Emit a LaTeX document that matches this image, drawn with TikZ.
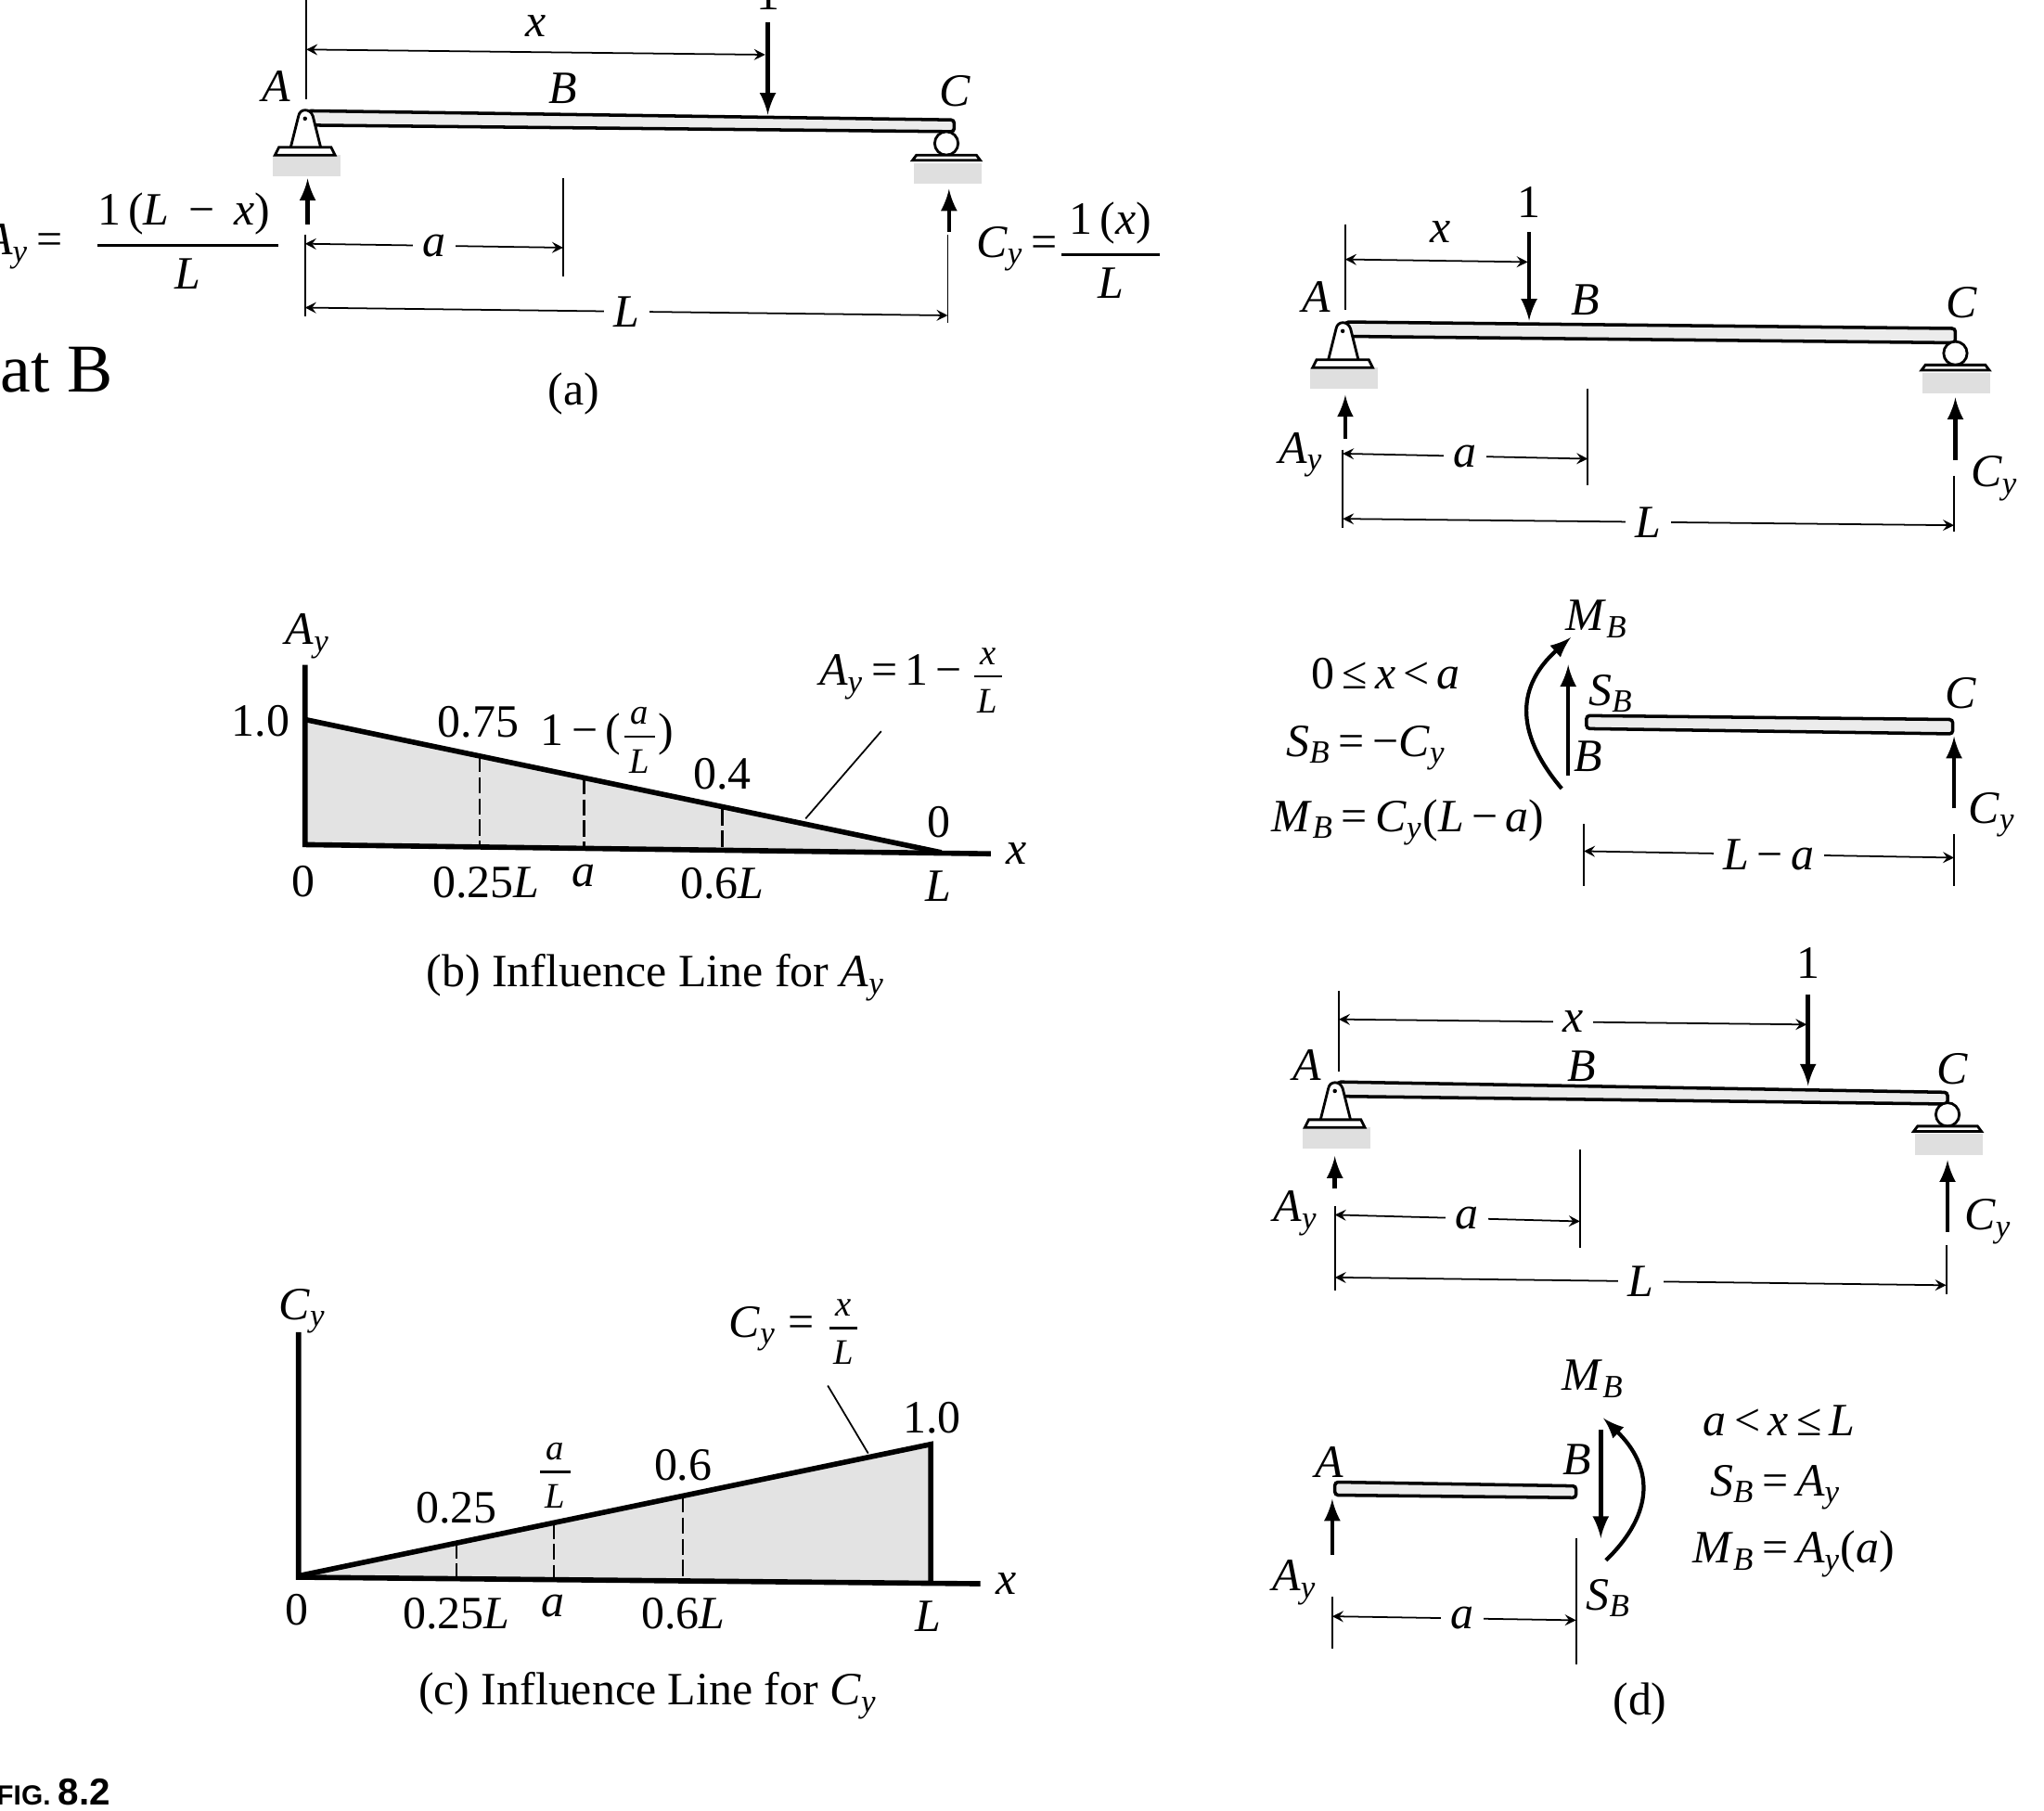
\documentclass[tikz,border=0pt]{standalone}
\usepackage{fontspec}
\setmainfont{Liberation Serif}
\newfontfamily\figfont{Liberation Sans}
\usetikzlibrary{arrows, calc}

\newcommand{\Sb}[2]{\textit{#1}\textsubscript{\textit{#2}}}
\newcommand{\Fr}[2]{$\displaystyle{\hbox{#1}\above 0.8pt\hbox{#2}}$}
\newcommand{\Sr}[2]{{\fontsize{11}{12}\selectfont $\textstyle{\hbox{\rule[-2.5pt]{0pt}{0pt}\,\textit{#1}\,}\above 0.8pt\hbox{\rule{0pt}{10pt}\textit{#2}}}$}}

% pin is at (#1,#2), roller centre is at (#1,#2)
\newcommand{\PinSupport}[2]{
    \begin{scope}[shift={(#1,#2)}]
        \fill[ground] (-25,28) rectangle (27,44);
        \draw[support] (-11,22) -- (-5,-2) .. controls (-4,-8) and (4,-8) .. (6,-2) -- (12,22);
        \draw[support] (-23,28) -- (-20,22) -- (20,22) -- (23,28) -- cycle;
        \fill (0,0) circle (1.6);
    \end{scope}
}
\newcommand{\RollerSupport}[2]{
    \begin{scope}[shift={(#1,#2)}]
        \fill[ground] (-25,15) rectangle (27,31);
        \draw[support] (0,0) circle (9);
        \draw[support] (-26,13) -- (-23,9) -- (23,9) -- (26,13) -- cycle;
    \end{scope}
}

\tikzset{
    every node/.style={inner sep=0pt, font=\fontsize{14.2}{16}\selectfont},
    dimline/.style={<->, >=stealth, line width=0.5pt},
    extline/.style={line width=0.5pt},
    force/.style={->, >=latex, line width=1.3pt},
    moment/.style={->, >=latex, line width=1.2pt},
    axisline/.style={line width=1.6pt},
    beam/.style={draw, fill=gray!15, line width=1pt, rounded corners=1pt},
    support/.style={draw, fill=white, line width=0.8pt},
    ground/.style={fill=gray!25},
    shade/.style={fill=gray!22},
    cut/.style={dash pattern=on 5pt off 1.5pt, line width=0.7pt},
    lbl/.style={fill=white, inner sep=3pt},
    leader/.style={line width=0.5pt}
}

\begin{document}
\begin{tikzpicture}[x=0.01405cm, y=-0.01405cm]
    \useasboundingbox (0,0) rectangle (1568,1389.3);

    % (a) beam with the reactions
    \draw[beam] (236,85) -- (732,92) -- (732,101) -- (236,96) -- cycle;
    \PinSupport{234}{91}
    \RollerSupport{726}{110}
    \draw[extline] (235,-5) -- (235,76);
    \draw[dimline] (235,38) -- (587,42);
    \node (xa) at (411,20) {\textit{x}};
    \node (onea) at (589,-4) {1};
    \draw[force] (589,17) -- (589,88);
    \node (Aa) at (212,66) {\textit{A}};
    \node (Ba) at (432,68) {\textit{B}};
    \node (Ca) at (733,70) {\textit{C}};
    \draw[force] (236,172) -- (236,137);
    \draw[force] (728,178) -- (728,145);
    \node (Aya) at (18,189) {\Sb{A}{y}\,=};
    \node (Afrac) at (144,185) {\Fr{1\,(\textit{L} \,−\, \textit{x})\,}{\textit{L}}};
    \node (Cya) at (780,191) {\Sb{C}{y}\,=};
    \node (Cfrac) at (852,192) {\Fr{\,1\,(\textit{x})\,}{\textit{L}}};
    \draw[extline] (234,180) -- (234,243);
    \draw[extline] (432,137) -- (432,212);
    \draw[extline] (727,180) -- (727,248);
    \draw[dimline] (234,187) -- (432,190) node[midway, lbl] (dima) {\textit{a}};
    \draw[dimline] (234,236) -- (727,242) node[midway, lbl] (dimLa) {\textit{L}};
    \node[anchor=west, font=\fontsize{21}{24}\selectfont] (atB) at (0,284) {at B};
    \node (capa) at (440,302) {(a)};

    % (b) influence line for Ay
    \fill[shade] (234,552) -- (716,652) -- (234,648) -- cycle;
    \draw[cut] (368,580) -- (368,650);
    \draw[cut] (448,597) -- (448,651);
    \draw[cut] (554,621) -- (554,652);
    \draw[axisline] (234,510) -- (234,648) -- (760,655);
    \draw[axisline] (234,552) -- (722,654);
    \draw[leader] (676,561) -- (618,628);
    \node (Ayb) at (236,488) {\Sb{A}{y}};
    \node (oneb) at (200,553) {1.0};
    \node (q75) at (367,554) {0.75};
    \node (abb) at (466,568) {1\,−\,(\Sr{a}{L})};
    \node (q4) at (554,594) {0.4};
    \node (eqb) at (700,522) {\Sb{A}{y}\,=\,1\,−\,\Sr{x}{L}};
    \node (zerob) at (720,631) {0};
    \node (xb) at (780,655) {\textit{x}};
    \node (ob) at (233,676) {0};
    \node (q25L) at (373,677) {0.25\textit{L}};
    \node (ab) at (448,672) {\textit{a}};
    \node (q6L) at (554,678) {0.6\textit{L}};
    \node (Lb) at (720,680) {\textit{L}};
    \node (capb) at (503,750) {(b) Influence Line for \Sb{A}{y}};

    % (c) influence line for Cy
    \fill[shade] (229,1209) -- (714,1108) -- (714,1213) -- cycle;
    \draw[cut] (350,1183) -- (350,1211);
    \draw[cut] (425,1168) -- (425,1212);
    \draw[cut] (524,1148) -- (524,1213);
    \draw[axisline] (229,1022) -- (229,1210) -- (752,1215);
    \draw[axisline] (229,1209) -- (714,1108) -- (714,1213);
    \draw[leader] (635,1063) -- (666,1115);
    \node (Cyc) at (232,1006) {\Sb{C}{y}};
    \node (q25) at (350,1157) {0.25};
    \node (ac) at (426,1132) {\Sr{a}{L}};
    \node (q6) at (524,1124) {0.6};
    \node (onec) at (715,1088) {1.0};
    \node (eqc) at (610,1022) {\Sb{C}{y} = \Sr{x}{L}};
    \node (xc) at (772,1215) {\textit{x}};
    \node (oc) at (228,1235) {0};
    \node (r25L) at (350,1238) {0.25\textit{L}};
    \node (rA) at (424,1232) {\textit{a}};
    \node (r6L) at (524,1238) {0.6\textit{L}};
    \node (Lc) at (712,1240) {\textit{L}};
    \node (capc) at (497,1301) {(c) Influence Line for \Sb{C}{y}};

    \node[anchor=west] (fig) at (-3,1375) {\figfont\bfseries\fontsize{8.5}{10}\selectfont FIG. \fontsize{11.5}{12}\selectfont 8.2};

    % (d) load left of B
    \draw[beam] (1032,247) -- (1500,252) -- (1500,263) -- (1032,258) -- cycle;
    \PinSupport{1030}{254}
    \RollerSupport{1500}{271}
    \draw[extline] (1032,172) -- (1032,238);
    \draw[dimline] (1032,199) -- (1172,201);
    \node (xd) at (1105,178) {\textit{x}};
    \node (oned) at (1173,155) {1};
    \draw[force] (1173,178) -- (1173,246);
    \node (Ad) at (1010,228) {\textit{A}};
    \node (Bd) at (1216,230) {\textit{B}};
    \node (Cd) at (1505,232) {\textit{C}};
    \draw[force] (1032,337) -- (1032,303);
    \draw[force] (1500,353) -- (1500,305);
    \node (Ayd) at (998,349) {\Sb{A}{y}};
    \node (Cyd) at (1530,367) {\Sb{C}{y}};
    \draw[extline] (1030,345) -- (1030,405);
    \draw[extline] (1218,298) -- (1218,372);
    \draw[extline] (1499,365) -- (1499,408);
    \draw[dimline] (1030,348) -- (1218,352) node[midway, lbl] (dimad) {\textit{a}};
    \draw[dimline] (1030,398) -- (1499,403) node[midway, lbl] (dimLd) {\textit{L}};

    % (d) right part, cut at B
    \draw[beam] (1217,549) -- (1498,552) -- (1498,563) -- (1217,559) -- cycle;
    \node (Cs) at (1504,532) {\textit{C}};
    \draw[force] (1499,620) -- (1499,565);
    \node (Cys) at (1528,625) {\Sb{C}{y}};
    \node (MBs) at (1225,475) {\Sb{M}{B}};
    \node (SBs) at (1236,532) {\Sb{S}{B}};
    \node (Bs) at (1218,580) {\textit{B}};
    \draw[force] (1203,595) -- (1203,510);
    \draw[moment] (1198,605) .. controls (1160,560) and (1165,525) .. (1205,489);
    \node (cond1) at (1063,517) {0\,≤\,\textit{x}\,<\,\textit{a}};
    \node (sh1) at (1048,574) {\Sb{S}{B}\,=\,−\Sb{C}{y}};
    \node (mo1) at (1080,631) {\Sb{M}{B}\,=\,\Sb{C}{y}(\textit{L}\,−\,\textit{a})};
    \draw[extline] (1215,632) -- (1215,680);
    \draw[extline] (1499,640) -- (1499,680);
    \draw[dimline] (1215,653) -- (1499,658) node[midway, lbl] (dimLs) {\textit{L}\,−\,\textit{a}};

    % (d) load right of B
    \draw[beam] (1026,830) -- (1494,838) -- (1494,847) -- (1026,841) -- cycle;
    \PinSupport{1024}{837}
    \RollerSupport{1494}{855}
    \draw[extline] (1027,760) -- (1027,822);
    \draw[dimline] (1027,782) -- (1386,786) node[midway, lbl] (xe) {\textit{x}};
    \node (onee) at (1387,739) {1};
    \draw[force] (1387,763) -- (1387,833);
    \node (Ae) at (1003,817) {\textit{A}};
    \node (Be) at (1213,818) {\textit{B}};
    \node (Ce) at (1498,820) {\textit{C}};
    \draw[force] (1024,912) -- (1024,887);
    \draw[force] (1494,945) -- (1494,890);
    \node (Aye) at (994,931) {\Sb{A}{y}};
    \node (Cye) at (1525,937) {\Sb{C}{y}};
    \draw[extline] (1024,925) -- (1024,990);
    \draw[extline] (1212,882) -- (1212,957);
    \draw[extline] (1493,955) -- (1493,993);
    \draw[dimline] (1024,932) -- (1212,937) node[pos=0.54, lbl] (dimae) {\textit{a}};
    \draw[dimline] (1024,980) -- (1493,986) node[midway, lbl] (dimLe) {\textit{L}};

    % (d) left part, cut at B
    \draw[beam] (1024,1137) -- (1209,1140) -- (1209,1149) -- (1024,1147) -- cycle;
    \node (Af) at (1020,1122) {\textit{A}};
    \node (Bf) at (1210,1120) {\textit{B}};
    \draw[force] (1022,1193) -- (1022,1150);
    \node (Ayf) at (993,1214) {\Sb{A}{y}};
    \draw[force] (1228,1097) -- (1228,1180);
    \draw[moment] (1232,1197) .. controls (1270,1160) and (1268,1125) .. (1230,1088);
    \node (MBf) at (1222,1058) {\Sb{M}{B}};
    \node (SBf) at (1234,1226) {\Sb{S}{B}};
    \node (cond2) at (1365,1090) {\textit{a}\,<\,\textit{x}\,≤\,\textit{L}};
    \node (sh2) at (1362,1141) {\Sb{S}{B}\,=\,\Sb{A}{y}};
    \node (mo2) at (1376,1192) {\Sb{M}{B}\,=\,\Sb{A}{y}(\textit{a})};
    \draw[extline] (1022,1225) -- (1022,1265);
    \draw[extline] (1209,1180) -- (1209,1277);
    \draw[dimline] (1022,1240) -- (1209,1243) node[pos=0.535, lbl] (dimaf) {\textit{a}};
    \node (capd) at (1258,1307) {(d)};
\end{tikzpicture}
\end{document}
